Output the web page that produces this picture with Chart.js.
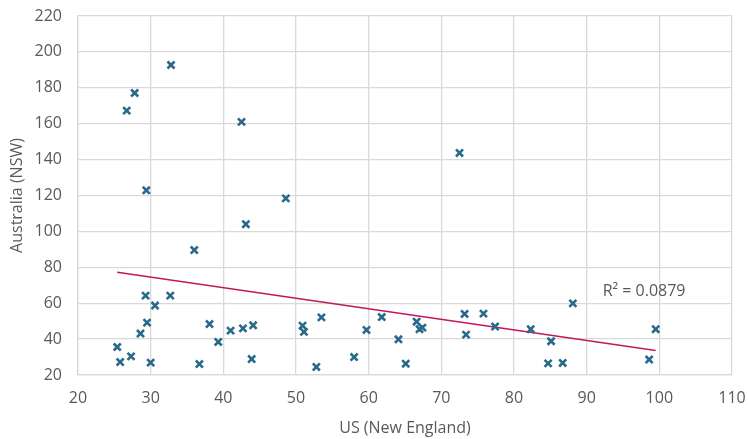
<!DOCTYPE html>
<html>
<head>
<meta charset="utf-8">
<script src="https://cdn.jsdelivr.net/npm/chart.js@4/dist/chart.umd.min.js"></script>
<style>
  html, body { margin: 0; padding: 0; background: #fff; }
  #wrap { width: 748px; height: 439px; }
</style>
</head>
<body>
<div id="wrap"><canvas id="scatterChart"></canvas></div>
<script>
// US (New England) vs Australia (NSW)
const usNewEngland = [26.7, 27.8, 32.8, 42.5, 29.4, 48.6, 72.5, 43.1, 36.0, 29.3,
    32.7, 30.6, 29.5, 28.6, 25.4, 25.8, 27.3, 30.0, 36.7, 38.1,
    39.3, 41.0, 42.7, 44.1, 43.9, 50.9, 51.1, 53.5, 52.8, 58.0,
    59.7, 61.8, 64.1, 65.1, 66.6, 67.0, 67.4, 73.2, 73.4, 75.8,
    77.4, 82.3, 85.1, 84.7, 86.7, 88.1, 99.5, 98.6];
const australiaNSW = [167.3, 177.1, 192.7, 161.0, 122.9, 118.4, 143.7, 104.0, 89.6, 64.2,
    64.2, 58.7, 49.2, 43.1, 35.6, 27.2, 30.4, 26.9, 26.1, 48.4,
    38.4, 44.7, 46.0, 47.7, 28.9, 47.5, 44.0, 52.1, 24.5, 30.0,
    45.1, 52.3, 39.9, 26.3, 49.7, 45.5, 46.4, 54.0, 42.5, 54.2,
    47.0, 45.5, 38.8, 26.5, 26.7, 59.9, 45.5, 28.6];

// linear trendline endpoints and label
const trendX = [25.4, 99.5];
const trendY = [77.3, 33.6];
const rSquaredLabel = "R² = 0.0879";
const labelAt = { x: 92.2, y: 66.8 };

const xTicks = [20, 30, 40, 50, 60, 70, 80, 90, 100, 110];
const yTicks = [20, 40, 60, 80, 100, 120, 140, 160, 180, 200, 220];

const textColor = "#595959";
const gridColor = "#d9d9d9";
const fontFamily = "'Open Sans', sans-serif";

const points = usNewEngland.map((x, i) => ({ x: x, y: australiaNSW[i] }));
const trend = trendX.map((x, i) => ({ x: x, y: trendY[i] }));

// draws the R² text next to the trendline
const rSquaredPlugin = {
    id: "rSquared",
    afterDatasetsDraw(chart) {
        const { ctx, scales } = chart;
        ctx.save();
        ctx.font = "16px " + fontFamily;
        ctx.fillStyle = textColor;
        ctx.textAlign = "left";
        ctx.textBaseline = "middle";
        ctx.fillText(rSquaredLabel, scales.x.getPixelForValue(labelAt.x), scales.y.getPixelForValue(labelAt.y));
        ctx.restore();
    }
};

new Chart(document.getElementById("scatterChart"), {
    type: "scatter",
    data: {
        datasets: [
            {
                label: "Trend",
                type: "line",
                data: trend,
                borderColor: "#c2185b",
                borderWidth: 1.5,
                pointRadius: 0,
                fill: false,
                order: 2
            },
            {
                label: "NSW vs New England",
                data: points,
                pointStyle: "crossRot",
                pointRadius: 5,
                pointBorderWidth: 2.6,
                borderColor: "#29698a",
                backgroundColor: "#29698a",
                order: 1
            }
        ]
    },
    options: {
        responsive: true,
        maintainAspectRatio: false,
        animation: false,
        layout: { padding: { left: 0, right: 16, top: 16, bottom: 0 } },
        plugins: {
            legend: { display: false },
            tooltip: { enabled: false }
        },
        scales: {
            x: {
                type: "linear",
                min: 20,
                max: 110,
                afterBuildTicks: (axis) => { axis.ticks = xTicks.map(v => ({ value: v })); },
                afterFit: (axis) => {
                    axis.height = 64;
                    axis.paddingLeft = 0;
                    axis.paddingRight = 0;
                },
                grid: { color: gridColor, lineWidth: 1.3, drawTicks: false },
                border: { color: gridColor, width: 1.3 },
                ticks: { color: textColor, font: { family: fontFamily, size: 16 }, padding: 14, maxRotation: 0 },
                title: { display: true, text: "US (New England)", color: textColor, font: { family: fontFamily, size: 16 }, padding: { top: 8, bottom: 1 } }
            },
            y: {
                type: "linear",
                min: 20,
                max: 220,
                afterBuildTicks: (axis) => { axis.ticks = yTicks.map(v => ({ value: v })); },
                afterFit: (axis) => {
                    axis.width = 78;
                    axis.paddingTop = 0;
                    axis.paddingBottom = 0;
                },
                grid: { color: gridColor, lineWidth: 1.3, drawTicks: false },
                border: { color: gridColor, width: 1.3 },
                ticks: { color: textColor, font: { family: fontFamily, size: 16 }, padding: 16 },
                title: { display: true, text: "Australia (NSW)", color: textColor, font: { family: fontFamily, size: 16 }, padding: { top: 8, bottom: 4 } }
            }
        }
    },
    plugins: [rSquaredPlugin]
});
</script>
</body>
</html>
